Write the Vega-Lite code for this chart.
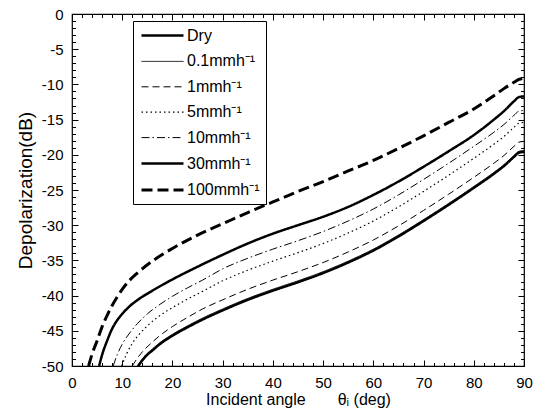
{
  "$schema": "https://vega.github.io/schema/vega-lite/v6.json",
  "width": 452,
  "height": 352,
  "autosize": {"type": "none"},
  "padding": {"left": 72, "top": 14, "right": 10, "bottom": 49},
  "config": {
    "font": "Liberation Sans",
    "view": {"stroke": "black", "strokeWidth": 1.2},
    "axis": {"grid": false, "domain": false, "tickColor": "black", "tickWidth": 1, "labelColor": "black", "titleColor": "black", "labelFont": "Liberation Sans", "titleFont": "Liberation Sans", "labelFontSize": 15, "titleFontSize": 16, "titleFontWeight": "normal", "labelFlush": false, "labelOverlap": false}
  },
  "data": {"values": [
    {"s":"Dry","x":13.2,"y":-50},{"s":"Dry","x":14,"y":-49.2},{"s":"Dry","x":15,"y":-48.4},{"s":"Dry","x":16,"y":-47.8},{"s":"Dry","x":17.3,"y":-47.0},{"s":"Dry","x":20,"y":-45.7},{"s":"Dry","x":23,"y":-44.5},{"s":"Dry","x":26,"y":-43.4},{"s":"Dry","x":30,"y":-42.1},{"s":"Dry","x":35,"y":-40.6},{"s":"Dry","x":40,"y":-39.3},{"s":"Dry","x":45,"y":-38.1},{"s":"Dry","x":50,"y":-36.8},{"s":"Dry","x":55,"y":-35.3},{"s":"Dry","x":60,"y":-33.6},{"s":"Dry","x":65,"y":-31.6},{"s":"Dry","x":70,"y":-29.4},{"s":"Dry","x":75,"y":-27.1},{"s":"Dry","x":80,"y":-24.7},{"s":"Dry","x":84,"y":-22.7},{"s":"Dry","x":86,"y":-21.6},{"s":"Dry","x":88,"y":-20.3},{"s":"Dry","x":89,"y":-19.7},{"s":"Dry","x":90,"y":-19.6},
    {"s":"0.1mmh⁻¹","x":13.0,"y":-50},{"s":"0.1mmh⁻¹","x":14,"y":-49.0},{"s":"0.1mmh⁻¹","x":15,"y":-48.2},{"s":"0.1mmh⁻¹","x":16,"y":-47.6},{"s":"0.1mmh⁻¹","x":17.3,"y":-46.8},{"s":"0.1mmh⁻¹","x":20,"y":-45.5},{"s":"0.1mmh⁻¹","x":23,"y":-44.3},{"s":"0.1mmh⁻¹","x":26,"y":-43.2},{"s":"0.1mmh⁻¹","x":30,"y":-41.9},{"s":"0.1mmh⁻¹","x":35,"y":-40.4},{"s":"0.1mmh⁻¹","x":40,"y":-39.1},{"s":"0.1mmh⁻¹","x":45,"y":-37.9},{"s":"0.1mmh⁻¹","x":50,"y":-36.6},{"s":"0.1mmh⁻¹","x":55,"y":-35.1},{"s":"0.1mmh⁻¹","x":60,"y":-33.4},{"s":"0.1mmh⁻¹","x":65,"y":-31.4},{"s":"0.1mmh⁻¹","x":70,"y":-29.2},{"s":"0.1mmh⁻¹","x":75,"y":-26.9},{"s":"0.1mmh⁻¹","x":80,"y":-24.5},{"s":"0.1mmh⁻¹","x":84,"y":-22.5},{"s":"0.1mmh⁻¹","x":86,"y":-21.4},{"s":"0.1mmh⁻¹","x":88,"y":-20.1},{"s":"0.1mmh⁻¹","x":89,"y":-19.5},{"s":"0.1mmh⁻¹","x":90,"y":-19.4},
    {"s":"1mmh⁻¹","x":12,"y":-50},{"s":"1mmh⁻¹","x":13,"y":-48.9},{"s":"1mmh⁻¹","x":14,"y":-48.0},{"s":"1mmh⁻¹","x":16,"y":-46.6},{"s":"1mmh⁻¹","x":18,"y":-45.4},{"s":"1mmh⁻¹","x":20,"y":-44.4},{"s":"1mmh⁻¹","x":23,"y":-43.1},{"s":"1mmh⁻¹","x":26,"y":-41.9},{"s":"1mmh⁻¹","x":30,"y":-40.6},{"s":"1mmh⁻¹","x":35,"y":-39.1},{"s":"1mmh⁻¹","x":40,"y":-37.8},{"s":"1mmh⁻¹","x":45,"y":-36.6},{"s":"1mmh⁻¹","x":50,"y":-35.3},{"s":"1mmh⁻¹","x":55,"y":-33.8},{"s":"1mmh⁻¹","x":60,"y":-32.1},{"s":"1mmh⁻¹","x":65,"y":-30.1},{"s":"1mmh⁻¹","x":70,"y":-27.9},{"s":"1mmh⁻¹","x":75,"y":-25.6},{"s":"1mmh⁻¹","x":80,"y":-23.2},{"s":"1mmh⁻¹","x":84,"y":-21.2},{"s":"1mmh⁻¹","x":86,"y":-20.1},{"s":"1mmh⁻¹","x":88,"y":-18.8},{"s":"1mmh⁻¹","x":89,"y":-18.2},{"s":"1mmh⁻¹","x":90,"y":-18.1},
    {"s":"5mmh⁻¹","x":9.9,"y":-50},{"s":"5mmh⁻¹","x":10.5,"y":-48.9},{"s":"5mmh⁻¹","x":11,"y":-48.1},{"s":"5mmh⁻¹","x":12,"y":-46.8},{"s":"5mmh⁻¹","x":13.5,"y":-45.4},{"s":"5mmh⁻¹","x":15,"y":-44.3},{"s":"5mmh⁻¹","x":17,"y":-43.1},{"s":"5mmh⁻¹","x":20,"y":-41.7},{"s":"5mmh⁻¹","x":23,"y":-40.5},{"s":"5mmh⁻¹","x":26,"y":-39.4},{"s":"5mmh⁻¹","x":30,"y":-37.9},{"s":"5mmh⁻¹","x":35,"y":-36.4},{"s":"5mmh⁻¹","x":40,"y":-35.1},{"s":"5mmh⁻¹","x":45,"y":-33.9},{"s":"5mmh⁻¹","x":50,"y":-32.6},{"s":"5mmh⁻¹","x":55,"y":-31.1},{"s":"5mmh⁻¹","x":60,"y":-29.4},{"s":"5mmh⁻¹","x":65,"y":-27.4},{"s":"5mmh⁻¹","x":70,"y":-25.2},{"s":"5mmh⁻¹","x":75,"y":-22.9},{"s":"5mmh⁻¹","x":80,"y":-20.5},{"s":"5mmh⁻¹","x":84,"y":-18.5},{"s":"5mmh⁻¹","x":86,"y":-17.4},{"s":"5mmh⁻¹","x":88,"y":-16.1},{"s":"5mmh⁻¹","x":89,"y":-15.5},{"s":"5mmh⁻¹","x":90,"y":-15.4},
    {"s":"10mmh⁻¹","x":8.2,"y":-50},{"s":"10mmh⁻¹","x":9,"y":-48.4},{"s":"10mmh⁻¹","x":10,"y":-46.9},{"s":"10mmh⁻¹","x":11.5,"y":-45.3},{"s":"10mmh⁻¹","x":13,"y":-44.0},{"s":"10mmh⁻¹","x":15,"y":-42.6},{"s":"10mmh⁻¹","x":17,"y":-41.5},{"s":"10mmh⁻¹","x":20,"y":-40.1},{"s":"10mmh⁻¹","x":23,"y":-38.9},{"s":"10mmh⁻¹","x":26,"y":-37.8},{"s":"10mmh⁻¹","x":30,"y":-36.2},{"s":"10mmh⁻¹","x":35,"y":-34.7},{"s":"10mmh⁻¹","x":40,"y":-33.4},{"s":"10mmh⁻¹","x":45,"y":-32.2},{"s":"10mmh⁻¹","x":50,"y":-30.9},{"s":"10mmh⁻¹","x":55,"y":-29.4},{"s":"10mmh⁻¹","x":60,"y":-27.7},{"s":"10mmh⁻¹","x":65,"y":-25.7},{"s":"10mmh⁻¹","x":70,"y":-23.5},{"s":"10mmh⁻¹","x":75,"y":-21.2},{"s":"10mmh⁻¹","x":80,"y":-18.8},{"s":"10mmh⁻¹","x":84,"y":-16.8},{"s":"10mmh⁻¹","x":86,"y":-15.7},{"s":"10mmh⁻¹","x":88,"y":-14.4},{"s":"10mmh⁻¹","x":89,"y":-13.8},{"s":"10mmh⁻¹","x":90,"y":-13.7},
    {"s":"30mmh⁻¹","x":5.4,"y":-50},{"s":"30mmh⁻¹","x":6,"y":-48.4},{"s":"30mmh⁻¹","x":7,"y":-46.4},{"s":"30mmh⁻¹","x":8,"y":-44.7},{"s":"30mmh⁻¹","x":9,"y":-43.5},{"s":"30mmh⁻¹","x":10,"y":-42.6},{"s":"30mmh⁻¹","x":11.5,"y":-41.5},{"s":"30mmh⁻¹","x":13.3,"y":-40.5},{"s":"30mmh⁻¹","x":16,"y":-39.3},{"s":"30mmh⁻¹","x":20,"y":-37.7},{"s":"30mmh⁻¹","x":25,"y":-35.9},{"s":"30mmh⁻¹","x":30,"y":-34.2},{"s":"30mmh⁻¹","x":35,"y":-32.6},{"s":"30mmh⁻¹","x":40,"y":-31.2},{"s":"30mmh⁻¹","x":45,"y":-30.0},{"s":"30mmh⁻¹","x":50,"y":-28.8},{"s":"30mmh⁻¹","x":55,"y":-27.4},{"s":"30mmh⁻¹","x":60,"y":-25.7},{"s":"30mmh⁻¹","x":65,"y":-23.8},{"s":"30mmh⁻¹","x":70,"y":-21.7},{"s":"30mmh⁻¹","x":75,"y":-19.5},{"s":"30mmh⁻¹","x":80,"y":-17.2},{"s":"30mmh⁻¹","x":84,"y":-15.0},{"s":"30mmh⁻¹","x":86,"y":-13.8},{"s":"30mmh⁻¹","x":88,"y":-12.4},{"s":"30mmh⁻¹","x":89,"y":-11.8},{"s":"30mmh⁻¹","x":90,"y":-11.7},
    {"s":"100mmh⁻¹","x":3.3,"y":-50},{"s":"100mmh⁻¹","x":4,"y":-48.3},{"s":"100mmh⁻¹","x":5,"y":-46.4},{"s":"100mmh⁻¹","x":6,"y":-44.4},{"s":"100mmh⁻¹","x":7,"y":-42.8},{"s":"100mmh⁻¹","x":8,"y":-41.4},{"s":"100mmh⁻¹","x":9,"y":-40.2},{"s":"100mmh⁻¹","x":10,"y":-39.1},{"s":"100mmh⁻¹","x":11.5,"y":-37.8},{"s":"100mmh⁻¹","x":13,"y":-36.8},{"s":"100mmh⁻¹","x":16,"y":-35.1},{"s":"100mmh⁻¹","x":20,"y":-33.3},{"s":"100mmh⁻¹","x":25,"y":-31.4},{"s":"100mmh⁻¹","x":30,"y":-29.8},{"s":"100mmh⁻¹","x":35,"y":-28.2},{"s":"100mmh⁻¹","x":40,"y":-26.7},{"s":"100mmh⁻¹","x":45,"y":-25.2},{"s":"100mmh⁻¹","x":50,"y":-23.8},{"s":"100mmh⁻¹","x":55,"y":-22.3},{"s":"100mmh⁻¹","x":60,"y":-20.8},{"s":"100mmh⁻¹","x":65,"y":-19.1},{"s":"100mmh⁻¹","x":70,"y":-17.3},{"s":"100mmh⁻¹","x":75,"y":-15.4},{"s":"100mmh⁻¹","x":80,"y":-13.5},{"s":"100mmh⁻¹","x":84,"y":-11.6},{"s":"100mmh⁻¹","x":86,"y":-10.6},{"s":"100mmh⁻¹","x":88,"y":-9.7},{"s":"100mmh⁻¹","x":89,"y":-9.3},{"s":"100mmh⁻¹","x":90,"y":-9.1}
  ]},
  "layer": [
    {
      "mark": {"type": "line", "interpolate": "monotone", "clip": true},
      "encoding": {
        "x": {"field": "x", "type": "quantitative", "scale": {"domain": [0, 90], "nice": false, "zero": false},
              "axis": {"orient": "bottom", "values": [0,10,20,30,40,50,60,70,80,90], "ticks": false, "labelPadding": 9, "title": "Incident angle\u2003\u2003θᵢ (deg)", "titleFontSize": 16, "titlePadding": 1}},
        "y": {"field": "y", "type": "quantitative", "scale": {"domain": [-50, 0], "nice": false, "zero": false},
              "axis": {"orient": "left", "values": [-50,-45,-40,-35,-30,-25,-20,-15,-10,-5,0], "ticks": false, "labelPadding": 9, "labelExpr": "replace(datum.label, '−', '-')", "title": "Depolarization(dB)", "titleFontSize": 19, "titlePadding": 6}},
        "color": {"value": "black"},
        "strokeDash": {"field": "s", "type": "nominal",
          "scale": {"domain": ["Dry","0.1mmh⁻¹","1mmh⁻¹","5mmh⁻¹","10mmh⁻¹","30mmh⁻¹","100mmh⁻¹"],
                    "range": [[1,0],[1,0],[7,4],[1.5,3],[8,3,1.5,3],[1,0],[11,5]]},
          "legend": {"orient": "none", "legendX": 61, "legendY": 7, "title": null, "symbolType": "M-3,0H3", "symbolSize": 196, "symbolOffset": 15, "symbolStrokeColor": "black", "labelFontSize": 16, "labelFont": "Liberation Sans", "labelColor": "black", "labelOffset": 16, "padding": 6, "rowPadding": 9.4, "strokeColor": "black", "fillColor": "white"}},
        "strokeWidth": {"field": "s", "type": "nominal",
          "scale": {"type": "ordinal", "domain": ["Dry","0.1mmh⁻¹","1mmh⁻¹","5mmh⁻¹","10mmh⁻¹","30mmh⁻¹","100mmh⁻¹"],
                    "range": [2.5,1,1,1.2,1,2.5,3]}}
      }
    },
    {
      "mark": {"type": "point", "opacity": 0},
      "encoding": {
        "x": {"field": "x", "type": "quantitative", "axis": {"orient": "bottom", "values": [0,10,20,30,40,50,60,70,80,90], "labels": false, "tickSize": -6, "title": null}},
        "y": {"field": "y", "type": "quantitative", "axis": {"orient": "left", "values": [-50,-45,-40,-35,-30,-25,-20,-15,-10,-5,0], "labels": false, "tickSize": -6, "title": null}}
      }
    },
    {
      "mark": {"type": "point", "opacity": 0},
      "encoding": {
        "x": {"field": "x", "type": "quantitative", "axis": {"orient": "bottom", "values": [2,4,6,8,12,14,16,18,22,24,26,28,32,34,36,38,42,44,46,48,52,54,56,58,62,64,66,68,72,74,76,78,82,84,86,88], "labels": false, "tickSize": -3.5, "title": null}},
        "y": {"field": "y", "type": "quantitative", "axis": {"orient": "left", "values": [-49,-48,-47,-46,-44,-43,-42,-41,-39,-38,-37,-36,-34,-33,-32,-31,-29,-28,-27,-26,-24,-23,-22,-21,-19,-18,-17,-16,-14,-13,-12,-11,-9,-8,-7,-6,-4,-3,-2,-1], "labels": false, "tickSize": -3.5, "title": null}}
      }
    },
    {
      "mark": {"type": "point", "opacity": 0},
      "encoding": {
        "x": {"field": "x", "type": "quantitative", "axis": {"orient": "top", "values": [0,10,20,30,40,50,60,70,80,90], "labels": false, "tickSize": -6, "title": null}},
        "y": {"field": "y", "type": "quantitative", "axis": {"orient": "right", "values": [-50,-45,-40,-35,-30,-25,-20,-15,-10,-5,0], "labels": false, "tickSize": -6, "title": null}}
      }
    },
    {
      "mark": {"type": "point", "opacity": 0},
      "encoding": {
        "x": {"field": "x", "type": "quantitative", "axis": {"orient": "top", "values": [2,4,6,8,12,14,16,18,22,24,26,28,32,34,36,38,42,44,46,48,52,54,56,58,62,64,66,68,72,74,76,78,82,84,86,88], "labels": false, "tickSize": -3.5, "title": null}},
        "y": {"field": "y", "type": "quantitative", "axis": {"orient": "right", "values": [-49,-48,-47,-46,-44,-43,-42,-41,-39,-38,-37,-36,-34,-33,-32,-31,-29,-28,-27,-26,-24,-23,-22,-21,-19,-18,-17,-16,-14,-13,-12,-11,-9,-8,-7,-6,-4,-3,-2,-1], "labels": false, "tickSize": -3.5, "title": null}}
      }
    }
  ],
  "resolve": {"axis": {"x": "independent", "y": "independent"}}
}
